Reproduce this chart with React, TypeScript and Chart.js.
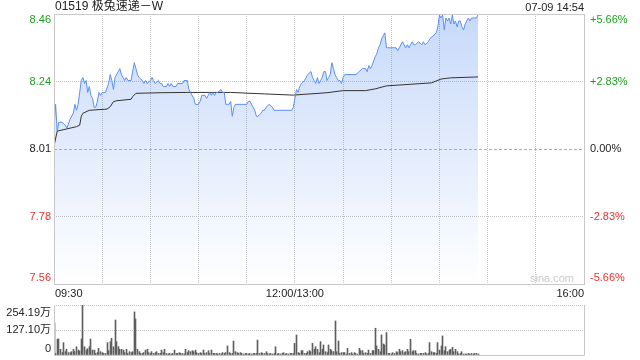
import React, { useEffect, useRef } from "react";
import { Chart, registerables } from "chart.js";

Chart.register(...registerables);

// ---------- text ----------
const TITLE = "01519 极兔速递－W";
const TIMESTAMP = "07-09 14:54";
const WATERMARK = "sina.com";
const PRICE_LABELS = ["8.46", "8.24", "8.01", "7.78", "7.56"];
const PCT_LABELS = ["+5.66%", "+2.83%", "0.00%", "-2.83%", "-5.66%"];
const TIME_LABELS = ["09:30", "12:00/13:00", "16:00"];
const TIME_LABEL_MINUTES = [0, 150, 330];
const VOL_LABELS = ["254.19万", "127.10万", "0"];

// ---------- scale settings ----------
const PREV_CLOSE = 8.01;
const LIMIT_PCT = 5.66;
const SESSION_MINUTES = 330; // 09:30-12:00 + 13:00-16:00
const GRID_STEP_MINUTES = 30;
const VOL_MAX = 254.19; // 万

// ---------- series (minutes since 09:30) ----------
const PRICE_MINUTES = [
  0, 1, 2, 3, 5, 7, 8, 10, 12, 13, 14, 15, 16, 17, 18, 19, 20, 21, 22, 23,
  24, 25, 26, 27, 28, 29, 30, 32, 34, 35, 36, 37, 38, 40, 41, 42, 43, 44, 45, 46,
  48, 50, 51, 52, 53, 55, 56, 57, 58, 60, 61, 62, 63, 65, 66, 67, 68, 70, 71, 72,
  73, 74, 76, 77, 80, 81, 83, 84, 85, 87, 88, 90, 91, 92, 94, 95, 96, 97, 98, 99,
  100, 101, 102, 104, 105, 106, 107, 108, 109, 110, 111, 112, 113, 117, 120, 121, 122, 124, 125, 126,
  127, 129, 130, 131, 132, 134, 136, 137, 139, 145, 148, 149, 150, 151, 152, 153, 154, 156, 158, 160,
  161, 162, 163, 164, 165, 166, 167, 168, 169, 170, 171, 172, 173, 174, 175, 176, 177, 178, 179, 180,
  181, 188, 190, 192, 194, 195, 196, 197, 198, 200, 201, 202, 203, 204, 205, 206, 207, 209, 213, 214,
  215, 217, 218, 219, 220, 221, 222, 223, 224, 225, 227, 229, 230, 231, 233, 234, 236, 238, 239, 240,
  241, 242, 243, 244, 245, 246, 247, 248, 249, 250, 251, 252, 253, 254, 255, 256, 257, 258, 259, 260,
  261, 262, 263, 264,
];
const PRICES = [
  8.08, 8.16, 8.07, 8.10, 8.10, 8.09, 8.08, 8.11, 8.13, 8.16, 8.14, 8.16, 8.20, 8.24, 8.25, 8.23, 8.24, 8.20, 8.22, 8.19,
  8.18, 8.15, 8.15, 8.17, 8.20, 8.19, 8.20, 8.20, 8.23, 8.26, 8.24, 8.21, 8.25, 8.27, 8.28, 8.26, 8.25, 8.24, 8.25, 8.24,
  8.24, 8.30, 8.28, 8.26, 8.25, 8.24, 8.23, 8.24, 8.23, 8.24, 8.25, 8.24, 8.23, 8.24, 8.23, 8.23, 8.22, 8.22, 8.23, 8.22,
  8.23, 8.22, 8.22, 8.23, 8.23, 8.24, 8.24, 8.21, 8.20, 8.18, 8.16, 8.16, 8.17, 8.19, 8.19, 8.18, 8.19, 8.20, 8.19, 8.20,
  8.19, 8.20, 8.20, 8.21, 8.20, 8.20, 8.16, 8.16, 8.16, 8.17, 8.12, 8.15, 8.16, 8.16, 8.16, 8.17, 8.17, 8.15, 8.14, 8.12,
  8.12, 8.13, 8.14, 8.14, 8.15, 8.16, 8.15, 8.14, 8.14, 8.14, 8.14, 8.15, 8.18, 8.21, 8.20, 8.22, 8.23, 8.24, 8.26, 8.27,
  8.25, 8.24, 8.23, 8.25, 8.23, 8.24, 8.25, 8.27, 8.27, 8.24, 8.25, 8.26, 8.30, 8.28, 8.26, 8.25, 8.24, 8.24, 8.23, 8.25,
  8.26, 8.26, 8.27, 8.28, 8.28, 8.27, 8.29, 8.28, 8.29, 8.32, 8.33, 8.35, 8.36, 8.38, 8.39, 8.40, 8.35, 8.35, 8.35, 8.34,
  8.35, 8.37, 8.36, 8.35, 8.36, 8.35, 8.36, 8.37, 8.36, 8.36, 8.37, 8.36, 8.37, 8.36, 8.37, 8.38, 8.39, 8.40, 8.42, 8.46,
  8.45, 8.46, 8.41, 8.45, 8.44, 8.45, 8.43, 8.46, 8.43, 8.44, 8.42, 8.44, 8.44, 8.42, 8.41, 8.43, 8.44, 8.45, 8.44, 8.45,
  8.45, 8.45, 8.45, 8.46,
];
const AVG_MINUTES = [0, 2, 10, 14, 16, 17, 18, 22, 33, 35, 37, 39, 48, 49, 51, 66, 83, 110, 131, 149, 170, 180, 194, 200, 207, 235, 241, 247, 264];
const AVG_PRICES = [8.02, 8.07, 8.08, 8.085, 8.09, 8.12, 8.13, 8.14, 8.144, 8.152, 8.169, 8.172, 8.177, 8.186, 8.197, 8.199, 8.2, 8.2, 8.195, 8.191, 8.199, 8.206, 8.206, 8.212, 8.222, 8.232, 8.245, 8.249, 8.252];

// volume per minute, in 万 shares, from 09:30
const VOLUMES = [
  164, 8, 81, 81, 29, 12, 63, 17, 29, 12,
  12, 17, 29, 17, 42, 25, 20, 81, 254.19, 42,
  25, 32, 42, 81, 25, 25, 8, 12, 34, 17,
  12, 8, 8, 63, 22, 68, 85, 42, 178, 68,
  42, 29, 29, 25, 12, 29, 8, 17, 12, 17,
  219, 183, 29, 17, 8, 8, 12, 25, 29, 12,
  8, 17, 8, 12, 17, 8, 8, 25, 12, 29,
  8, 5, 8, 5, 8, 25, 8, 8, 12, 8,
  8, 5, 29, 12, 22, 17, 22, 17, 25, 12,
  8, 12, 8, 25, 8, 12, 22, 8, 25, 8,
  8, 8, 5, 8, 5, 12, 8, 12, 46, 12,
  8, 8, 71, 17, 12, 8, 12, 8, 5, 8,
  8, 5, 8, 5, 8, 8, 8, 76, 8, 12,
  8, 8, 17, 8, 5, 8, 5, 8, 42, 5,
  8, 5, 8, 12, 5, 8, 5, 8, 8, 8,
  59, 102, 12, 8, 22, 22, 8, 8, 17, 22,
  17, 59, 29, 42, 29, 12, 68, 29, 51, 17,
  12, 51, 29, 22, 17, 173, 17, 71, 8, 12,
  12, 12, 5, 34, 8, 12, 5, 12, 8, 5,
  34, 22, 22, 8, 12, 8, 25, 8, 22, 22,
  136, 46, 29, 17, 102, 56, 51, 114, 8, 8,
  5, 12, 8, 17, 12, 29, 17, 22, 12, 17,
  29, 17, 80, 17, 22, 22, 8, 5, 8, 8,
  8, 12, 5, 8, 63, 17, 12, 12, 8, 63,
  25, 46, 97, 22, 42, 17, 25, 29, 39, 17,
  29, 17, 5, 8, 17, 5, 5, 5, 8, 5,
  8, 5, 8, 8, 5,
];

// ---------- styles ----------
const FONT = '"Liberation Sans", Arial, "Noto Sans CJK SC", sans-serif';
const GREEN = "#1ea01e";
const RED = "#f0302a";
const DARK = "#222";
const BORDER = "#c8c8c8";
const GRID = "#c4c4c4";
const LINE_BLUE = "#5b8ff0";

const PRICE_MULTS = [1, 0.5, 0, -0.5, -1];
const PRICE_TICKS = PRICE_MULTS.map((k) => PREV_CLOSE * (1 + (LIMIT_PCT / 100) * k));
const PRICE_MAX = PRICE_TICKS[0];
const PRICE_MIN = PRICE_TICKS[PRICE_TICKS.length - 1];
const labelColor = (i: number) => (PRICE_MULTS[i] > 0 ? GREEN : PRICE_MULTS[i] < 0 ? RED : DARK);

const mainDecor = {
  id: "mainDecor",
  beforeDatasetsDraw(chart: any) {
    const { ctx, chartArea: a, scales } = chart;
    const y0 = Math.round(scales.y.getPixelForValue(PREV_CLOSE)) + 0.5;
    ctx.save();
    ctx.strokeStyle = "#ababab";
    ctx.lineWidth = 1;
    ctx.setLineDash([3, 2]);
    ctx.beginPath();
    ctx.moveTo(a.left, y0);
    ctx.lineTo(a.right, y0);
    ctx.stroke();
    ctx.restore();
  },
  afterDraw(chart: any) {
    const { ctx, chartArea: a, scales } = chart;
    ctx.save();
    ctx.setLineDash([]);
    ctx.strokeStyle = BORDER;
    ctx.lineWidth = 1;
    ctx.strokeRect(a.left + 0.5, a.top + 0.5, a.right - a.left, a.bottom - a.top);

    ctx.textBaseline = "middle";
    ctx.font = `11px ${FONT}`;
    PRICE_TICKS.forEach((v, i) => {
      let py = scales.y.getPixelForValue(v);
      py = Math.min(Math.max(py, a.top + 6), a.bottom - 6);
      ctx.fillStyle = labelColor(i);
      ctx.textAlign = "right";
      ctx.fillText(PRICE_LABELS[i], a.left - 3, py);
      ctx.textAlign = "left";
      ctx.fillText(PCT_LABELS[i], a.right + 6, py);
    });

    ctx.fillStyle = DARK;
    TIME_LABELS.forEach((t, i) => {
      const px = scales.x.getPixelForValue(TIME_LABEL_MINUTES[i]);
      ctx.textAlign = i === 0 ? "left" : i === TIME_LABELS.length - 1 ? "right" : "center";
      ctx.fillText(t, px + (i === 0 ? 1 : 0), a.bottom + 9.5);
    });

    ctx.textAlign = "right";
    ctx.fillText(TIMESTAMP, a.right, 7.5);

    ctx.font = `12px ${FONT}`;
    ctx.textAlign = "left";
    ctx.fillText(TITLE, a.left + 1, 7);

    ctx.font = `11px ${FONT}`;
    ctx.fillStyle = "#cacaca";
    ctx.textAlign = "right";
    ctx.fillText(WATERMARK, a.right - 10, a.bottom - 5);
    ctx.restore();
  },
};

const volDecor = {
  id: "volDecor",
  afterDatasetsUpdate(chart: any) {
    chart.getDatasetMeta(0).data.forEach((el: any) => {
      el.x = Math.floor(el.x) + 0.5;
    });
  },
  afterDraw(chart: any) {
    const { ctx, chartArea: a, scales } = chart;
    ctx.save();
    ctx.setLineDash([]);
    ctx.strokeStyle = BORDER;
    ctx.lineWidth = 1;
    ctx.beginPath();
    ctx.moveTo(a.left + 0.5, a.top);
    ctx.lineTo(a.left + 0.5, a.bottom + 0.5);
    ctx.lineTo(a.right + 0.5, a.bottom + 0.5);
    ctx.lineTo(a.right + 0.5, a.top);
    ctx.stroke();

    ctx.font = `11px ${FONT}`;
    ctx.fillStyle = DARK;
    ctx.textAlign = "right";
    ctx.textBaseline = "middle";
    const vals = [VOL_MAX, VOL_MAX / 2, 0];
    vals.forEach((v, i) => {
      let py = scales.y.getPixelForValue(v);
      py = Math.min(Math.max(py, a.top + 8), a.bottom - 6);
      ctx.fillText(VOL_LABELS[i], a.left - 3, py);
    });
    ctx.restore();
  },
};

const zeroW = (s: any) => {
  s.width = 0;
};
const zeroH = (s: any) => {
  s.height = 0;
};

export default function App() {
  const mainRef = useRef<HTMLCanvasElement>(null);
  const volRef = useRef<HTMLCanvasElement>(null);

  useEffect(() => {
    const main = new Chart(mainRef.current as HTMLCanvasElement, {
      type: "line",
      data: {
        datasets: [
          {
            label: "price",
            data: PRICE_MINUTES.map((m, i) => ({ x: m, y: PRICES[i] })),
            borderColor: LINE_BLUE,
            borderWidth: 1,
            pointRadius: 0,
            tension: 0,
            fill: "start",
            backgroundColor: (c: any) => {
              const area = c.chart.chartArea;
              if (!area) return "rgba(40,110,235,0.12)";
              const g = c.chart.ctx.createLinearGradient(0, area.top, 0, area.bottom);
              g.addColorStop(0, "rgba(40,110,235,0.26)");
              g.addColorStop(1, "rgba(40,110,235,0.0)");
              return g;
            },
          },
          {
            label: "avg",
            data: AVG_MINUTES.map((m, i) => ({ x: m, y: AVG_PRICES[i] })),
            borderColor: "#333",
            borderWidth: 1,
            pointRadius: 0,
            tension: 0,
            fill: false,
          },
        ],
      },
      options: {
        responsive: false,
        animation: false,
        devicePixelRatio: 1,
        events: [],
        layout: { padding: { left: 54, right: 56, top: 14, bottom: 16 } },
        plugins: {
          legend: { display: false },
          tooltip: { enabled: false },
          filler: { drawTime: "beforeDatasetsDraw" },
        } as any,
        scales: {
          x: {
            type: "linear",
            min: 0,
            max: SESSION_MINUTES,
            ticks: { display: false, stepSize: GRID_STEP_MINUTES },
            grid: {
              drawTicks: false,
              color: (c: any) =>
                c.tick && (c.tick.value === 0 || c.tick.value === SESSION_MINUTES) ? "rgba(0,0,0,0)" : GRID,
            },
            border: { display: false, dash: [1, 1] },
            afterFit: zeroH,
          },
          y: {
            type: "linear",
            min: PRICE_MIN,
            max: PRICE_MAX,
            afterBuildTicks: (s: any) => {
              s.ticks = PRICE_TICKS.map((v) => ({ value: v }));
            },
            ticks: { display: false },
            grid: {
              drawTicks: false,
              color: (c: any) => {
                const k = PRICE_MULTS[PRICE_TICKS.indexOf(c.tick ? c.tick.value : NaN)];
                return k === 0.5 || k === -0.5 ? GRID : "rgba(0,0,0,0)";
              },
            },
            border: { display: false, dash: [1, 1] },
            afterFit: zeroW,
          },
        },
      },
      plugins: [mainDecor],
    } as any);

    const vol = new Chart(volRef.current as HTMLCanvasElement, {
      type: "bar",
      data: {
        datasets: [
          {
            label: "volume",
            data: VOLUMES.map((v, i) => ({ x: i, y: v })),
            backgroundColor: "#5e5e5e",
            borderWidth: 0,
            barThickness: 1,
          },
        ],
      },
      options: {
        responsive: false,
        animation: false,
        devicePixelRatio: 1,
        events: [],
        layout: { padding: { left: 54, right: 56, top: 5, bottom: 5 } },
        plugins: { legend: { display: false }, tooltip: { enabled: false } },
        scales: {
          x: {
            type: "linear",
            min: 0,
            max: SESSION_MINUTES,
            offset: false,
            ticks: { display: false },
            grid: { display: false, drawTicks: false },
            border: { display: false },
            afterFit: zeroH,
          },
          y: {
            type: "linear",
            min: 0,
            max: VOL_MAX,
            afterBuildTicks: (s: any) => {
              s.ticks = [0, VOL_MAX / 2, VOL_MAX].map((v) => ({ value: v }));
            },
            ticks: { display: false },
            grid: {
              drawTicks: false,
              color: (c: any) => (c.tick && c.tick.value > 0 ? GRID : "rgba(0,0,0,0)"),
            },
            border: { display: false, dash: [1, 1] },
            afterFit: zeroW,
          },
        },
      },
      plugins: [volDecor],
    } as any);

    return () => {
      main.destroy();
      vol.destroy();
    };
  }, []);

  return (
    <div style={{ position: "fixed", left: 0, top: 0, width: 640, height: 360, background: "#fff" }}>
      <canvas
        ref={mainRef}
        width={640}
        height={300}
        style={{ position: "absolute", left: 0, top: 0, width: 640, height: 300 }}
      />
      <canvas
        ref={volRef}
        width={640}
        height={60}
        style={{ position: "absolute", left: 0, top: 300, width: 640, height: 60 }}
      />
    </div>
  );
}
